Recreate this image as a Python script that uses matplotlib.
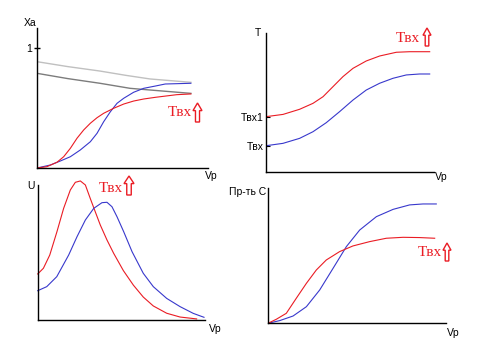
import matplotlib
matplotlib.use("Agg")
import matplotlib.pyplot as plt
from matplotlib.patches import Polygon

# ---------------- data ----------------
# Panel 1: Xa vs Vp
p1_eq_light_x = [0.0, 0.18, 0.368, 0.52, 0.661, 0.9]
p1_eq_light_y = [0.886, 0.845, 0.808, 0.772, 0.742, 0.714]
p1_eq_dark_x = [0.0, 0.18, 0.368, 0.544, 0.661, 0.9]
p1_eq_dark_y = [0.789, 0.745, 0.706, 0.664, 0.650, 0.622]
p1_blue_x = [0.0, 0.078, 0.136, 0.195, 0.253, 0.312, 0.351, 0.390, 0.429, 0.468, 0.507,
             0.565, 0.624, 0.692, 0.75, 0.9]
p1_blue_y = [0.0, 0.025, 0.058, 0.094, 0.150, 0.219, 0.289, 0.386, 0.469, 0.539, 0.581,
             0.631, 0.664, 0.683, 0.700, 0.706]
p1_red_x = [0.0, 0.058, 0.117, 0.156, 0.195, 0.234, 0.273, 0.312, 0.351, 0.390, 0.449,
            0.507, 0.565, 0.624, 0.692, 0.817, 0.900]
p1_red_y = [0.0, 0.011, 0.048, 0.094, 0.164, 0.248, 0.317, 0.373, 0.419, 0.456, 0.498,
            0.533, 0.558, 0.575, 0.589, 0.611, 0.617]

# Panel 2: T vs Vp
p2_red_x = [0.0, 0.1, 0.199, 0.279, 0.339, 0.398, 0.458, 0.518, 0.597, 0.677, 0.777, 0.856, 0.976]
p2_red_y = [0.398, 0.414, 0.451, 0.494, 0.542, 0.614, 0.687, 0.747, 0.800, 0.836, 0.863, 0.867, 0.867]
p2_blue_x = [0.0, 0.1, 0.199, 0.279, 0.358, 0.438, 0.518, 0.597, 0.677, 0.757, 0.836, 0.916, 0.976]
p2_blue_y = [0.188, 0.205, 0.241, 0.289, 0.354, 0.434, 0.518, 0.590, 0.639, 0.675, 0.699, 0.706, 0.706]
p2_ticks = [0.398, 0.188]
p2_ticklabels = ["Tвх1", "Tвх"]

# Panel 3: U vs Vp
p3_red_x = [0.0, 0.034, 0.072, 0.115, 0.155, 0.195, 0.225, 0.255, 0.285, 0.314, 0.344,
            0.374, 0.414, 0.454, 0.512, 0.572, 0.631, 0.691, 0.771, 0.851, 0.950]
p3_red_y = [0.341, 0.383, 0.481, 0.654, 0.827, 0.963, 1.020, 1.030, 1.000, 0.901, 0.802,
            0.704, 0.593, 0.494, 0.366, 0.258, 0.170, 0.104, 0.050, 0.022, 0.008]
p3_blue_x = [0.0, 0.054, 0.114, 0.185, 0.235, 0.285, 0.335, 0.384, 0.414, 0.444, 0.474,
             0.514, 0.564, 0.631, 0.691, 0.771, 0.851, 0.930, 0.994]
p3_blue_y = [0.217, 0.247, 0.321, 0.481, 0.617, 0.741, 0.827, 0.869, 0.872, 0.839, 0.765,
             0.654, 0.506, 0.346, 0.247, 0.160, 0.099, 0.049, 0.020]

# Panel 4: selectivity vs Vp
p4_blue_x = [0.0, 0.066, 0.141, 0.216, 0.291, 0.366, 0.441, 0.516, 0.610, 0.704, 0.797, 0.872, 0.947]
p4_blue_y = [0.0, 0.020, 0.054, 0.123, 0.247, 0.407, 0.568, 0.691, 0.790, 0.844, 0.877, 0.884, 0.884]
p4_red_x = [0.0, 0.047, 0.103, 0.159, 0.216, 0.272, 0.328, 0.403, 0.478, 0.572, 0.666, 0.760, 0.854, 0.938]
p4_red_y = [0.0, 0.030, 0.074, 0.185, 0.296, 0.395, 0.469, 0.531, 0.573, 0.605, 0.630, 0.637, 0.635, 0.630]

RED = "#ea1c24"
BLUE = "#3838cc"
LGRAY = "#c0c0c0"
DGRAY = "#7c7c7c"
LW = 0.8

W, H = 486, 354
fig = plt.figure(figsize=(W / 100, H / 100), dpi=100)
fig.patch.set_facecolor("white")


def fx(x):
    return x / W


def fy(y):
    return 1 - y / H


def make_ax(left, right, top, bottom, ymax=1.0):
    ax = fig.add_axes([fx(left), fy(bottom), (right - left) / W, (bottom - top) / H])
    ax.set_xlim(0, 1)
    ax.set_ylim(0, ymax)
    for s in ["top", "right"]:
        ax.spines[s].set_visible(False)
    for s in ["left", "bottom"]:
        ax.spines[s].set_linewidth(1.0)
        ax.spines[s].set_color("black")
    ax.set_xticks([])
    ax.set_yticks([])
    ax.patch.set_alpha(0)
    return ax


def label(x, y, s, **kw):
    fig.text(fx(x), fy(y), s, ha="center", va="center", family="Liberation Sans",
             fontsize=7.5, color="black", **kw)


def red_label(x, y, xa0, xa1, ya0, ya1):
    fig.text(fx(x), fy(y), "Tвх", ha="center", va="center", family="Liberation Serif",
             fontsize=11, color=RED)
    xc = (xa0 + xa1) / 2
    sw = (xa1 - xa0) * 0.45
    hh = (ya1 - ya0) * 0.4
    pts = [(xc, ya0), (xa1, ya0 + hh), (xc + sw / 2, ya0 + hh), (xc + sw / 2, ya1),
           (xc - sw / 2, ya1), (xc - sw / 2, ya0 + hh), (xa0, ya0 + hh)]
    fig.add_artist(Polygon([(fx(a), fy(b)) for a, b in pts], closed=True, fill=False,
                           edgecolor=RED, linewidth=1.0, transform=fig.transFigure))


# ---- Panel 1 ----
ax1 = make_ax(37, 208, 28, 168, ymax=140 / 120)
ax1.plot(p1_eq_light_x, p1_eq_light_y, color=LGRAY, lw=LW + 0.2)
ax1.plot(p1_eq_dark_x, p1_eq_dark_y, color=DGRAY, lw=LW + 0.2)
ax1.plot(p1_blue_x, p1_blue_y, color=BLUE, lw=LW)
ax1.plot(p1_red_x, p1_red_y, color=RED, lw=LW)
ax1.set_yticks([1])
ax1.set_yticklabels(["1"], family="Liberation Sans", fontsize=7.5)
ax1.tick_params(axis="y", direction="inout", length=5, width=1, pad=1)
label(30, 23, "Xa")
label(211.5, 176.5, "Vp")
red_label(180, 113, 193, 202, 103, 122)

# ---- Panel 2 ----
ax2 = make_ax(266.3, 433.7, 33.3, 171.7)
ax2.plot(p2_red_x, p2_red_y, color=RED, lw=LW)
ax2.plot(p2_blue_x, p2_blue_y, color=BLUE, lw=LW)
ax2.set_yticks(p2_ticks)
ax2.set_yticklabels(p2_ticklabels, family="Liberation Sans", fontsize=7.5)
ax2.tick_params(axis="y", direction="in", length=3, width=0.8, pad=2)
for t, c in zip(ax2.yaxis.get_major_ticks(), [RED, BLUE]):
    t.tick1line.set_color(c)
label(258, 33, "T")
label(441, 177, "Vp")
red_label(408, 38, 423, 431, 28, 46)

# ---- Panel 3 ----
ax3 = make_ax(37.7, 205, 185, 320)
ax3.plot(p3_red_x, p3_red_y, color=RED, lw=LW, clip_on=False)
ax3.plot(p3_blue_x, p3_blue_y, color=BLUE, lw=LW, clip_on=False)
label(31, 186, "U")
label(215, 329, "Vp")
red_label(111, 188, 124, 134, 176, 195)

# ---- Panel 4 ----
ax4 = make_ax(268, 445.7, 188.3, 323.3)
ax4.plot(p4_blue_x, p4_blue_y, color=BLUE, lw=LW)
ax4.plot(p4_red_x, p4_red_y, color=RED, lw=LW)
label(248, 192, "Пр-ть С")
label(453, 333, "Vp")
red_label(430, 253, 443, 451, 243, 261)

fig.savefig("out.png", dpi=100, facecolor="white")
